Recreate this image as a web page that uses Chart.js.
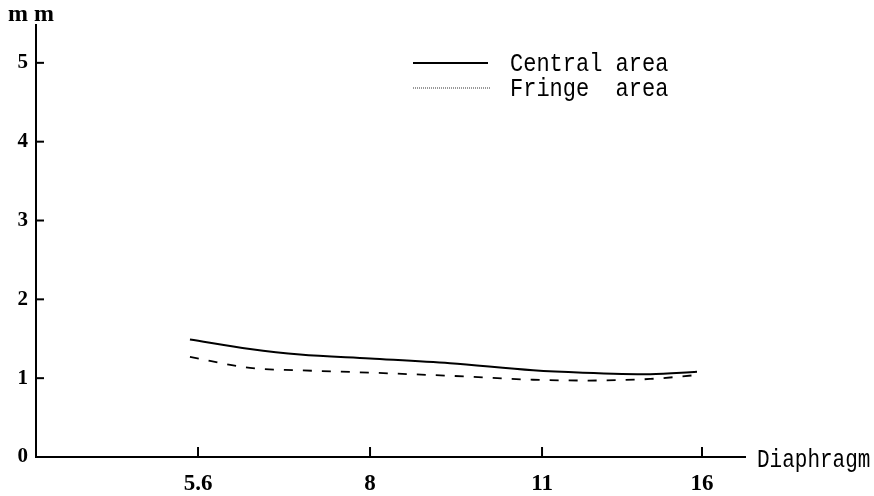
<!DOCTYPE html>
<html>
<head>
<meta charset="utf-8">
<script src="https://cdn.jsdelivr.net/npm/chart.js@4.4.0/dist/chart.umd.min.js"></script>
<style>
  html, body { margin: 0; padding: 0; background: #fff; }
  #wrap { width: 874px; height: 496px; }
</style>
</head>
<body>
<div id="wrap"><canvas id="apertureChart" width="874" height="496"></canvas></div>
<script>
// diaphragm settings and where each sits on the x axis (axis units)
var categories = ['5.6', '8', '11', '16'];
var categoryAt = [1, 2, 3, 3.93];
// x of each sample, in the same axis units
var samplePos = [0.953, 1.302, 1.593, 2.0, 2.465, 2.948, 3.238, 3.628, 3.901];
var centralArea = [1.49, 1.37, 1.30, 1.25, 1.19, 1.10, 1.07, 1.05, 1.08];
var fringeArea = [1.27, 1.13, 1.10, 1.07, 1.03, 0.98, 0.97, 0.99, 1.04];
var yTicks = [0, 1, 2, 3, 4, 5];

function toPoints(ys) {
    return ys.map(function (y, i) { return { x: samplePos[i], y: y }; });
}

var monoFont = '"Liberation Mono", "DejaVu Sans Mono", monospace';
var serifFont = '"Liberation Serif", "DejaVu Serif", serif';

// narrow, tall typewriter text like the original print
function narrowText(ctx, text, x, y, sx) {
    ctx.save();
    ctx.translate(x, y);
    ctx.scale(sx, 1);
    ctx.fillText(text, 0, 0);
    ctx.restore();
}

// inward tick marks, axis titles and the little legend
var extras = {
    id: 'extras',
    afterDraw: function (chart) {
        var ctx = chart.ctx;
        var xs = chart.scales.x, ys = chart.scales.y;
        var area = chart.chartArea;
        ctx.save();
        ctx.strokeStyle = '#000';
        ctx.lineWidth = 2;
        yTicks.forEach(function (v) {
            if (v === 0) return;
            var py = ys.getPixelForValue(v);
            ctx.beginPath();
            ctx.moveTo(area.left, py);
            ctx.lineTo(area.left + 8, py);
            ctx.stroke();
        });
        categoryAt.forEach(function (v) {
            var px = xs.getPixelForValue(v);
            ctx.beginPath();
            ctx.moveTo(px, area.bottom);
            ctx.lineTo(px, area.bottom - 10);
            ctx.stroke();
        });

        ctx.fillStyle = '#000';
        ctx.font = 'bold 24px ' + serifFont;
        ctx.textAlign = 'left';
        ctx.textBaseline = 'alphabetic';
        ctx.fillText('m m', 8, 21);

        ctx.font = '25px ' + monoFont;
        ctx.textBaseline = 'middle';
        narrowText(ctx, 'Diaphragm', area.right + 12, area.bottom + 3, 0.84);

        // legend
        ctx.lineWidth = 1.8;
        ctx.beginPath();
        ctx.moveTo(413, 63);
        ctx.lineTo(488, 63);
        ctx.stroke();
        ctx.lineWidth = 1.2;
        ctx.strokeStyle = '#555';
        ctx.setLineDash([1, 1]);
        ctx.beginPath();
        ctx.moveTo(413, 88);
        ctx.lineTo(490, 88);
        ctx.stroke();
        ctx.setLineDash([]);
        narrowText(ctx, 'Central area', 510, 64, 0.88);
        narrowText(ctx, 'Fringe  area', 510, 89, 0.88);
        ctx.restore();
    }
};

var apertureChart = new Chart(document.getElementById('apertureChart'), {
    type: 'line',
    data: {
        datasets: [{
            label: 'Central area',
            data: toPoints(centralArea),
            borderColor: '#000',
            borderWidth: 2,
            pointRadius: 0,
            cubicInterpolationMode: 'monotone',
            fill: false
        }, {
            label: 'Fringe  area',
            data: toPoints(fringeArea),
            borderColor: '#000',
            borderWidth: 1.8,
            borderDash: [9, 10],
            pointRadius: 0,
            cubicInterpolationMode: 'monotone',
            fill: false
        }]
    },
    options: {
        responsive: false,
        animation: false,
        layout: { padding: { left: 0, top: 25, right: 129, bottom: 0 } },
        plugins: {
            legend: { display: false },
            tooltip: { enabled: false }
        },
        scales: {
            x: {
                type: 'linear',
                min: 0.058,
                max: 4.18,
                afterBuildTicks: function (scale) {
                    scale.ticks = categoryAt.map(function (v) { return { value: v }; });
                },
                afterFit: function (scale) { scale.height = 39; },
                grid: { display: false, drawTicks: false },
                border: { display: true, color: '#000', width: 2 },
                ticks: {
                    padding: 13,
                    color: '#000',
                    font: { family: serifFont, size: 23, weight: 'bold' },
                    callback: function (v, i) { return categories[i]; }
                }
            },
            y: {
                type: 'linear',
                min: 0,
                max: 5.48,
                afterBuildTicks: function (scale) {
                    scale.ticks = yTicks.map(function (v) { return { value: v }; });
                },
                afterFit: function (scale) { scale.width = 36; },
                grid: { display: false, drawTicks: false },
                border: { display: true, color: '#000', width: 2 },
                ticks: {
                    padding: 8,
                    color: '#000',
                    font: { family: serifFont, size: 21, weight: 'bold' }
                }
            }
        }
    },
    plugins: [extras]
});
</script>
</body>
</html>
